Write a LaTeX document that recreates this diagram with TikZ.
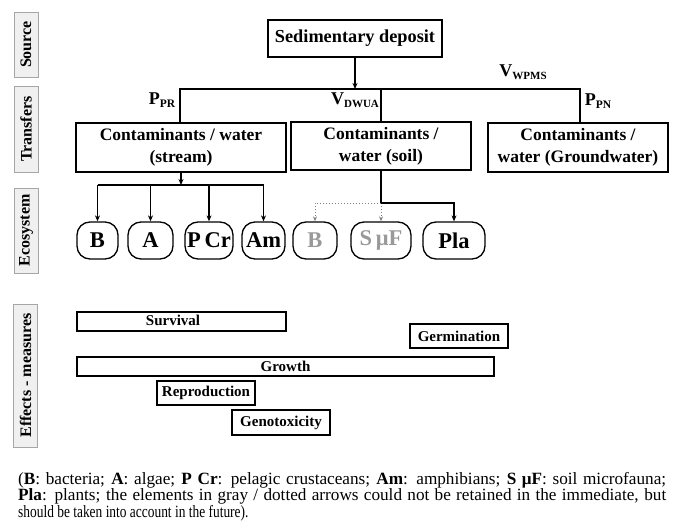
\documentclass[tikz,border=0pt]{standalone}
\usepackage{fontspec}
\setmainfont{Liberation Serif}
\usetikzlibrary{arrows.meta}
\begin{document}
\begin{tikzpicture}[x=1pt,y=-1pt,
  side/.style={draw=gray!70,fill=gray!12,line width=0.8pt,rotate=90,inner sep=0pt,font=\bfseries\fontsize{16}{16}\selectfont},
  box/.style={draw,line width=1.5pt,inner sep=0pt,align=center,font=\bfseries\fontsize{17.5}{22}\selectfont},
  eco/.style={draw,line width=1.3pt,rounded corners=13pt,inner sep=0pt,minimum height=37pt,font=\bfseries\fontsize{22.5}{22.5}\selectfont},
  ecog/.style={eco,text=gray!80},
  eff/.style={draw,line width=1.2pt,inner sep=0pt,font=\bfseries\fontsize{15}{15}\selectfont},
  effk/.style={eff,line width=2pt},
  lab/.style={font=\bfseries\fontsize{18}{18}\selectfont,inner sep=0pt},
  conn/.style={line width=1.3pt},
  arr/.style={conn,-{Stealth[length=6pt,width=5pt]}},
  dotarr/.style={line width=1pt,gray,dotted,-{Stealth[length=5pt,width=4pt]}}
]
\useasboundingbox (0,0) rectangle (691,527);
% side labels
\node[side,minimum width=65pt,minimum height=24pt] (s1) at (26,44.5) {Source};
\node[side,minimum width=86pt,minimum height=24pt] (s2) at (26,129) {Transfers};
\node[side,minimum width=85pt,minimum height=24pt] (s3) at (26,230.5) {Ecosystem};
\node[side,minimum width=143pt,minimum height=24pt] (s4) at (25.5,375.5) {Effects - measures};
% source and transfers
\node[box,minimum width=174pt,minimum height=37pt,font=\bfseries\fontsize{18.3}{18.3}\selectfont] (dep) at (355,38.5) {Sedimentary deposit};
\node[box,minimum width=210pt,minimum height=49pt] (stream) at (181,147.5) {Contaminants / water\\(stream)};
\node[box,minimum width=180pt,minimum height=48pt] (soil) at (381,146) {Contaminants /\\water (soil)};
\node[box,minimum width=180pt,minimum height=49pt] (ground) at (578,147.5) {Contaminants /\\water (Groundwater)};
\coordinate (j) at (355,89);
\draw[arr] (dep.south) -- (j);
\draw[conn] (stream.north -| 180,0) |- (j) -| (ground.north -| 580,0);
\draw[conn] (soil.north) -- (soil.north |- j);
\node[lab] (ppr) at (162,100) {P\raisebox{-0.35ex}{\fontsize{11.5}{11.5}\selectfont PR}};
\node[lab] (vdwua) at (355,100) {V\raisebox{-0.35ex}{\fontsize{11}{11}\selectfont DWUA}};
\node[lab] (vwpms) at (523,72) {V\raisebox{-0.35ex}{\fontsize{11}{11}\selectfont WPMS}};
\node[lab] (ppn) at (598,101) {P\raisebox{-0.35ex}{\fontsize{11.5}{11.5}\selectfont PN}};
% ecosystem
\node[eco,minimum width=41pt] (b1) at (97.5,240.5) {B};
\node[eco,minimum width=45pt] (a) at (150.5,240.5) {A};
\node[eco,minimum width=48pt] (pcr) at (209,240.5) {P\,Cr};
\node[eco,minimum width=43pt] (am) at (263.5,240.5) {Am};
\node[ecog,minimum width=44pt] (b2) at (315,240.5) {B};
\node[ecog,minimum width=60pt] (suf) at (381,240.5) {S\,μF};
\node[eco,minimum width=62pt] (pla) at (454,240.5) {Pla};
\coordinate (sh) at (181,185);
\draw[arr] (stream.south) -- (sh);
\draw[conn] (b1.north |- sh) -- (am.north |- sh);
\foreach \n in {b1,a,pcr,am} \draw[arr] (\n.north |- sh) -- (\n.north);
\coordinate (sj) at (381,203);
\draw[conn] (soil.south) -- (sj);
\draw[dotarr] (sj) -| (b2.north);
\draw[dotarr] (sj) -- (suf.north);
\draw[arr] (sj) -| (pla.north);
% effects
\node[eff,minimum width=209pt,minimum height=19pt] (surv) at (181.5,321.5) {};
\node[font=\bfseries\fontsize{15}{15}\selectfont,inner sep=0pt] (survt) at (173,320.5) {Survival};
\node[effk,minimum width=98pt,minimum height=24pt] (germ) at (459,336) {Germination};
\node[eff,minimum width=417pt,minimum height=19pt] (grow) at (285.5,366.5) {Growth};
\node[effk,minimum width=98pt,minimum height=24pt] (repr) at (206,393) {Reproduction};
\node[effk,minimum width=98pt,minimum height=25pt] (geno) at (281,422.5) {Genotoxicity};
% caption
\node[anchor=north west,inner sep=0pt,text width=648pt,align=justify,font=\fontsize{17.2}{16.5}\selectfont] (cap) at (18,472)
{(\textbf{B}: bacteria; \textbf{A}: algae; \textbf{P Cr}: pelagic crustaceans; \textbf{Am}: amphibians; \textbf{S μF}: soil microfauna;\linebreak \textbf{Pla}: plants; the elements in gray / dotted arrows could not be retained in the immediate, but\linebreak \scalebox{0.78}[1]{should be taken into account in the future).}};
\end{tikzpicture}
\end{document}
